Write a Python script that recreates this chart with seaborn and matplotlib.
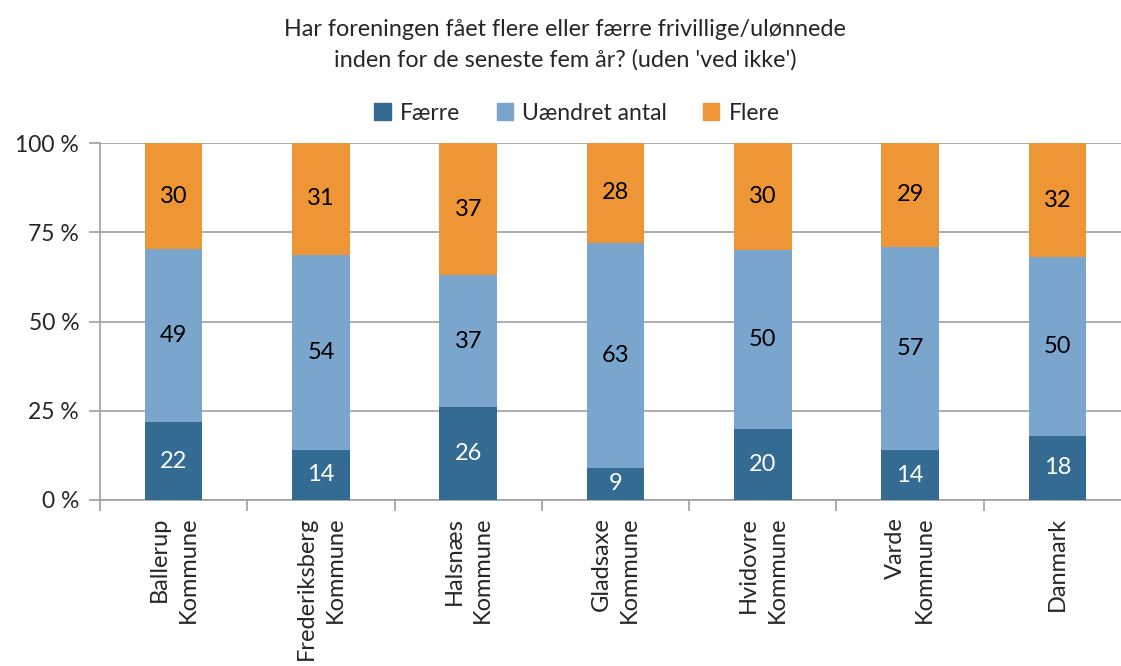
import matplotlib
matplotlib.use("Agg")
import matplotlib.pyplot as plt
import seaborn as sns
import pandas as pd
import numpy as np
from matplotlib.patches import Patch

categories = ["Ballerup\nKommune", "Frederiksberg\nKommune", "Halsnæs\nKommune",
              "Gladsaxe\nKommune", "Hvidovre\nKommune", "Varde\nKommune", "Danmark"]
faerre = [22, 14, 26, 9, 20, 14, 18]
uaendret = [49, 54, 37, 63, 50, 57, 50]
flere = [30, 31, 37, 28, 30, 29, 32]
series_names = ["Færre", "Uændret antal", "Flere"]
yticklabels = ["0 %", "25 %", "50 %", "75 %", "100 %"]

c_dark = "#336B93"
c_light = "#7AA6CE"
c_orange = "#EE9536"

sns.set_theme(style="white")
plt.rcParams["font.family"] = ["Lato", "DejaVu Sans"]

df = pd.DataFrame({"cat": categories, "f": faerre, "u": uaendret, "fl": flere})
tot = df["f"] + df["u"] + df["fl"]
df["c1"] = df["f"] / tot * 100
df["c2"] = (df["f"] + df["u"]) / tot * 100
df["c3"] = (df["f"] + df["u"] + df["fl"]) / tot * 100

fig = plt.figure(figsize=(11.21, 6.66), dpi=100)
ax = fig.add_axes([100/1121, 1-500/666, 1031/1121, 357/666])

w = 0.39
sns.barplot(data=df, x="cat", y="c3", color=c_orange, saturation=1, width=w, ax=ax, zorder=3)
sns.barplot(data=df, x="cat", y="c2", color=c_light, saturation=1, width=w, ax=ax, zorder=3)
sns.barplot(data=df, x="cat", y="c1", color=c_dark, saturation=1, width=w, ax=ax, zorder=3)
for p in ax.patches:
    p.set_edgecolor("none")

fs_lab = 17
for i in range(len(categories)):
    ax.text(i, df["c1"][i] / 2, str(faerre[i]), ha="center", va="center", color="white", fontsize=fs_lab, zorder=4)
    ax.text(i, (df["c1"][i] + df["c2"][i]) / 2, str(uaendret[i]), ha="center", va="center", color="black", fontsize=fs_lab, zorder=4)
    ax.text(i, (df["c2"][i] + df["c3"][i]) / 2, str(flere[i]), ha="center", va="center", color="black", fontsize=fs_lab, zorder=4)

ax.set_ylim(0, 100)
ax.set_xlim(-0.5, len(categories) - 0.5)
ax.set_yticks([0, 25, 50, 75, 100])
ax.set_yticklabels(yticklabels, fontsize=16.5)
ax.yaxis.grid(True, color="#A0A0A0", linewidth=1.2, zorder=0)
ax.set_axisbelow(True)
ax.set_xlabel("")
ax.set_ylabel("")

ax.set_xticks(np.arange(len(categories)))
ax.set_xticklabels(categories, rotation=90, fontsize=17, ha="center", va="top",
                   multialignment="right", linespacing=1.45)
ax.tick_params(axis="x", length=0, pad=12)
ax.set_xticks(np.arange(len(categories) + 1) - 0.5, minor=True)
ax.tick_params(axis="x", which="minor", length=8, color="#A0A0A0", width=1.2, bottom=True)
ax.tick_params(axis="y", length=8, color="#A0A0A0", width=1.2, left=True, pad=7)

for s in ["top", "right"]:
    ax.spines[s].set_visible(False)
for s in ["left", "bottom"]:
    ax.spines[s].set_color("#A0A0A0")
    ax.spines[s].set_linewidth(1.2)

handles = [Patch(color=c) for c in [c_dark, c_light, c_orange]]
fig.legend(handles, series_names, loc="center", bbox_to_anchor=(577/1121, 1-113/666), ncol=3,
           frameon=False, fontsize=16.5, handlelength=0.7, handleheight=0.7, handletextpad=0.4,
           columnspacing=1.6)

fig.text(565/1121, 1-45/666, "Har foreningen fået flere eller færre frivillige/ulønnede\ninden for de seneste fem år? (uden 'ved ikke')",
         ha="center", va="center", fontsize=16.8, linespacing=1.55)

fig.savefig("out.png", dpi=100)
